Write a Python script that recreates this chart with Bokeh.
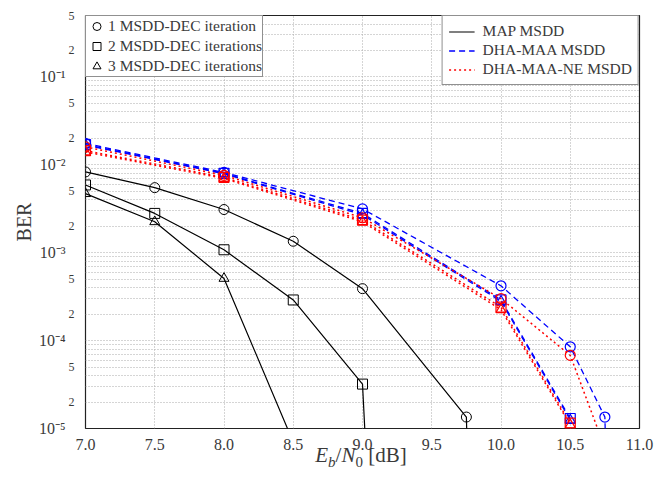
from bokeh.plotting import figure
from bokeh.models import FixedTicker, Legend, LegendItem, Range1d, LogAxis, Div
from bokeh.layouts import column
from bokeh.embed import file_html
from bokeh.resources import INLINE

# ---------------- data ----------------
# MAP MSDD (black, solid)
snr_map_1 = [7.0, 7.5, 8.0, 8.5, 9.0, 9.75, 10.0]
ber_map_1 = [8.3e-3, 5.5e-3, 3.1e-3, 1.35e-3, 3.9e-4, 1.35e-5, 1e-20]
snr_map_2 = [7.0, 7.5, 8.0, 8.5, 9.0, 9.5]
ber_map_2 = [5.9e-3, 2.8e-3, 1.08e-3, 2.9e-4, 3.2e-5, 1e-20]
snr_map_3 = [7.0, 7.5, 8.0, 8.5]
ber_map_3 = [4.7e-3, 2.25e-3, 5.1e-4, 7e-6]

# DHA-MAA MSDD (blue, dashed)
snr_dha_1 = [7.0, 8.0, 9.0, 10.0, 10.5, 10.75, 11.0]
ber_dha_1 = [1.75e-2, 8.2e-3, 3.15e-3, 4.2e-4, 8.5e-5, 1.35e-5, 1e-20]
snr_dha_2 = [7.0, 8.0, 9.0, 10.0, 10.5]
ber_dha_2 = [1.7e-2, 8.0e-3, 2.8e-3, 2.9e-4, 1.3e-5]
snr_dha_3 = [7.0, 8.0, 9.0, 10.0, 10.5]
ber_dha_3 = [1.68e-2, 7.9e-3, 2.7e-3, 2.8e-4, 1.25e-5]

# DHA-MAA-NE MSDD (red, dotted)
snr_ne_1 = [7.0, 8.0, 9.0, 10.0, 10.5, 10.75]
ber_ne_1 = [1.6e-2, 7.6e-3, 2.5e-3, 3.0e-4, 6.8e-5, 6e-6]
snr_ne_2 = [7.0, 8.0, 9.0, 10.0, 10.5]
ber_ne_2 = [1.45e-2, 7.2e-3, 2.35e-3, 2.4e-4, 1.15e-5]
snr_ne_3 = [7.0, 8.0, 9.0, 10.0, 10.5]
ber_ne_3 = [1.4e-2, 7.0e-3, 2.25e-3, 2.25e-4, 1.1e-5]

x_ticks = [7.0, 7.5, 8.0, 8.5, 9.0, 9.5, 10.0, 10.5, 11.0]
x_tick_labels = ["7.0", "7.5", "8.0", "8.5", "9.0", "9.5", "10.0", "10.5", "11.0"]
y_decades = [1e-5, 1e-4, 1e-3, 1e-2, 1e-1]
y_decade_labels = ["10\u207b\u2075", "10\u207b\u2074", "10\u207b\u00b3", "10\u207b\u00b2", "10\u207b\u00b9"]
y_minor = [m * d for d in [1e-5, 1e-4, 1e-3, 1e-2, 1e-1] for m in range(2, 10) if m * d <= 0.5]
y_small_label_values = [2e-5, 5e-5, 2e-4, 5e-4, 2e-3, 5e-3, 2e-2, 5e-2, 2e-1, 5e-1]
y_small_labels = ["2", "5", "2", "5", "2", "5", "2", "5", "2", "5"]

FONT = "Liberation Serif"
TXT = "#3a3a3a"

p = figure(width=670, height=461, y_axis_type="log",
           x_range=Range1d(7.0, 11.0), y_range=Range1d(1e-5, 0.5),
           output_backend="svg", toolbar_location=None,
           min_border_left=85, min_border_right=31, min_border_top=15, min_border_bottom=33)
p.background_fill_color = "white"
p.border_fill_color = "white"
p.outline_line_color = "#222222"
p.outline_line_width = 1.2

# x axis
xa = p.xaxis[0]
xa.ticker = FixedTicker(ticks=x_ticks)
xa.major_label_overrides = {t: l for t, l in zip(x_ticks, x_tick_labels)}
xa.major_label_text_font_size = "16px"
xa.major_label_standoff = 10

# inner y axis: small "2" / "5" labels
ya = p.yaxis[0]
ya.ticker = FixedTicker(ticks=y_small_label_values)
ya.major_label_overrides = {t: l for t, l in zip(y_small_label_values, y_small_labels)}
ya.major_label_text_font_size = "12px"
ya.major_label_standoff = 11

# outer y axis: decades
yb = LogAxis(ticker=FixedTicker(ticks=y_decades),
             major_label_overrides={t: l for t, l in zip(y_decades, y_decade_labels)})
yb.major_label_text_font_size = "16px"
yb.major_label_standoff = 0
yb.axis_label = "BER"
yb.axis_label_text_font = FONT
yb.axis_label_text_font_style = "normal"
yb.axis_label_text_font_size = "20px"
yb.axis_label_text_color = TXT
yb.axis_label_standoff = 1
p.add_layout(yb, "left")

for ax in (xa, ya, yb):
    ax.axis_line_color = None
    ax.major_tick_line_color = None
    ax.minor_tick_line_color = None
    ax.major_tick_out = 0
    ax.minor_tick_out = 0
    ax.major_tick_in = 0
    ax.minor_tick_in = 0
    ax.major_label_text_font = FONT
    ax.major_label_text_color = TXT

# grid
p.ygrid[0].ticker = FixedTicker(ticks=y_decades, minor_ticks=y_minor)
for g in (p.xgrid[0], p.ygrid[0]):
    g.grid_line_color = "#aaaaaa"
    g.grid_line_dash = "1 2"
    g.grid_line_width = 1
p.ygrid.minor_grid_line_color = "#aaaaaa"
p.ygrid.minor_grid_line_dash = "1 2"
p.ygrid.minor_grid_line_width = 1

MS = 10
# MAP MSDD
l_map1 = p.line(snr_map_1, ber_map_1, line_color="black", line_width=1.2)
p.line(snr_map_2, ber_map_2, line_color="black", line_width=1.2)
p.line(snr_map_3, ber_map_3, line_color="black", line_width=1.2)
s_c = p.scatter(snr_map_1, ber_map_1, marker="circle", size=MS, fill_color=None, line_color="black", line_width=1)
s_s = p.scatter(snr_map_2, ber_map_2, marker="square", size=MS, fill_color=None, line_color="black", line_width=1)
s_t = p.scatter(snr_map_3, ber_map_3, marker="triangle", size=MS, fill_color=None, line_color="black", line_width=1)

# DHA-MAA MSDD
BLUE = "#0000ff"
l_dha1 = p.line(snr_dha_1, ber_dha_1, line_color=BLUE, line_width=1.3, line_dash="6 4")
p.line(snr_dha_2, ber_dha_2, line_color=BLUE, line_width=1.3, line_dash="6 4")
p.line(snr_dha_3, ber_dha_3, line_color=BLUE, line_width=1.3, line_dash="6 4")
p.scatter(snr_dha_1, ber_dha_1, marker="circle", size=MS, fill_color=None, line_color=BLUE, line_width=1.2)
p.scatter(snr_dha_2, ber_dha_2, marker="square", size=MS, fill_color=None, line_color=BLUE, line_width=1.2)
p.scatter(snr_dha_3, ber_dha_3, marker="triangle", size=MS, fill_color=None, line_color=BLUE, line_width=1.2)

# DHA-MAA-NE MSDD
RED = "#ff0000"
l_ne1 = p.line(snr_ne_1, ber_ne_1, line_color=RED, line_width=1.5, line_dash="2 3")
p.line(snr_ne_2, ber_ne_2, line_color=RED, line_width=1.5, line_dash="2 3")
p.line(snr_ne_3, ber_ne_3, line_color=RED, line_width=1.5, line_dash="2 3")
p.scatter(snr_ne_1, ber_ne_1, marker="circle", size=MS, fill_color=None, line_color=RED, line_width=1.2)
p.scatter(snr_ne_2, ber_ne_2, marker="square", size=MS, fill_color=None, line_color=RED, line_width=1.2)
p.scatter(snr_ne_3, ber_ne_3, marker="triangle", size=MS, fill_color=None, line_color=RED, line_width=1.2)

def style_legend(lg):
    lg.margin = 0
    lg.label_text_font = FONT
    lg.label_text_font_size = "15.5px"
    lg.label_text_color = TXT
    lg.border_line_color = "#222222"
    lg.border_line_width = 1
    lg.background_fill_alpha = 1.0

leg1 = Legend(items=[LegendItem(label="1 MSDD-DEC iteration", renderers=[s_c]),
                     LegendItem(label="2 MSDD-DEC iterations", renderers=[s_s]),
                     LegendItem(label="3 MSDD-DEC iterations", renderers=[s_t])],
              location="top_left")
style_legend(leg1)
leg1.padding = 0
leg1.spacing = 0
leg1.glyph_width = 21
leg1.glyph_height = 20
leg1.label_height = 20
leg1.label_standoff = 1

leg2 = Legend(items=[LegendItem(label="MAP MSDD", renderers=[l_map1]),
                     LegendItem(label="DHA-MAA MSDD", renderers=[l_dha1]),
                     LegendItem(label="DHA-MAA-NE MSDD", renderers=[l_ne1])],
              location="top_right")
style_legend(leg2)
leg2.padding = 6
leg2.spacing = 1
leg2.glyph_width = 26
leg2.glyph_height = 15
leg2.label_height = 15
leg2.label_standoff = 8
p.add_layout(leg1)
p.add_layout(leg2)

xlabel = Div(text=('<div style="position:relative; top:-16px; width:670px; box-sizing:border-box; '
                   'padding-left:52px; text-align:center; font-family:\'Liberation Serif\', serif; '
                   'font-size:21px; line-height:21px; color:' + TXT + '; white-space:nowrap;">'
                   '<i>E</i><sub style="font-size:15px;"><i>b</i></sub>/<i>N</i>'
                   '<sub style="font-size:15px;">0</sub> [dB]</div>'),
             width=670, height=20, margin=(0, 0, 0, 0))

layout = column(p, xlabel, spacing=0)
open("out.html", "w").write(file_html(layout, INLINE))
